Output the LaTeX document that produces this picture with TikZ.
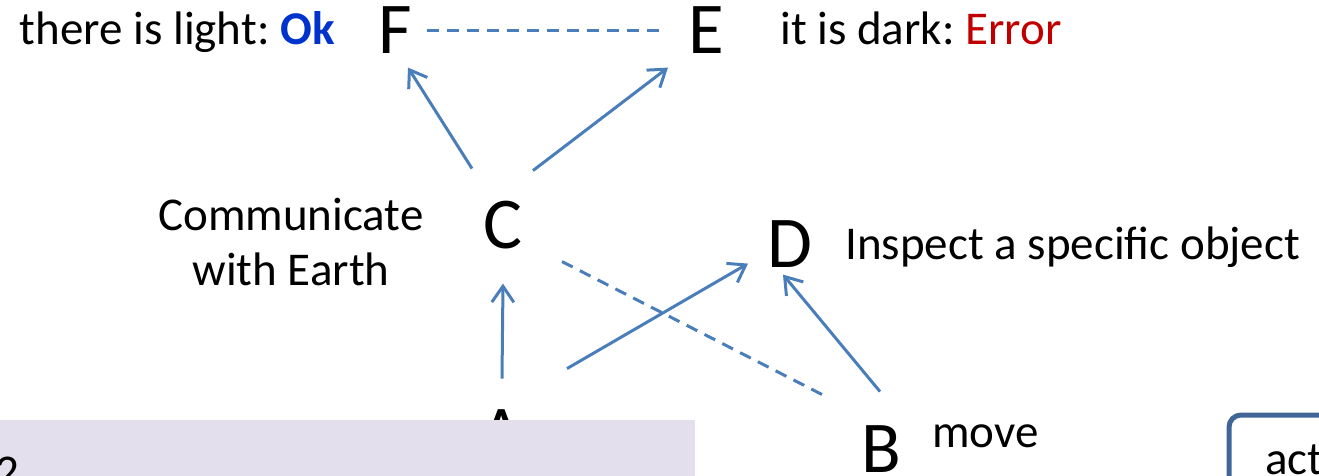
\documentclass[tikz,border=0pt]{standalone}
\usepackage{fontspec}
\setmainfont{Carlito}
\usetikzlibrary{arrows.meta}
\frenchspacing

\definecolor{linkblue}{RGB}{74,126,187}
\definecolor{okblue}{RGB}{0,51,204}
\definecolor{errred}{RGB}{192,0,0}
\definecolor{panel}{RGB}{228,223,236}
\definecolor{boxblue}{RGB}{65,101,150}

\begin{document}
\begin{tikzpicture}[x=0.5pt,y=-0.5pt]
		\useasboundingbox (0,0) rectangle (1319,476);
		\clip (0,0) rectangle (1319,476);

		% the states
		\begin{scope}[every node/.style={font=\fontsize{36.5}{40}\selectfont,inner sep=0pt,anchor=base}]
			\node (F) at (395,54) {F};
			\node (E) at (706,54) {E};
			\node (C) at (503,249) {C};
			\node (D) at (790,268) {D};
			\node (A) at (502,456) {A};
			\node (B) at (881,472) {B};
		\end{scope}

		% what each state means
		\begin{scope}[every node/.style={font=\fontsize{23.5}{27.5}\selectfont,inner sep=0pt}]
			\node[anchor=base east] (light) at (335,45) {there is light: \textcolor{okblue}{\textbf{Ok}}};
			\node[anchor=base west] (dark) at (780,45) {it is dark: \textcolor{errred}{Error}};
			\node[align=center] (comm) at (291,242) {Communicate\\with Earth};
			\node[anchor=base west] (inspect) at (845,259) {Inspect a specific object};
			\node[anchor=base west] (move) at (932,447) {move};
		\end{scope}

		\begin{scope}[>={Straight Barb[length=8pt,width=11pt]},
		              every edge/.style={draw=linkblue,line width=1.5pt}]
			\path ([shift={(32,0)}]F.center) edge[dash pattern=on 6pt off 4pt] ([shift={(-41,0)}]E.center);
			\path ([shift={(-31,-57)}]C.center) edge[->] ([shift={(13,37)}]F.center);
			\path ([shift={(30,-55)}]C.center) edge[->] ([shift={(-38,37)}]E.center);
			\path ([shift={(0,-54)}]A.center) edge[->] ([shift={(0,58)}]C.center);
			\path ([shift={(65,-64)}]A.center) edge[->] ([shift={(-42,19)}]D.center);
			\path ([shift={(-1,-57)}]B.center) edge[->] ([shift={(-7,30)}]D.center);
			\path ([shift={(59,36)}]C.center) edge[dash pattern=on 6pt off 4pt] ([shift={(-53,-51)}]B.center);
		\end{scope}

		% panel along the bottom edge
		\fill[panel] (0,420) rectangle (695,490);
		\node[font=\fontsize{23.5}{27.5}\selectfont,inner sep=0pt,anchor=base west] (num) at (-5,487) {2};

		% action box
		\draw[boxblue,line width=2.5pt,rounded corners=6pt] (1229,415) rectangle (1380,540);
		\node[font=\fontsize{23.5}{27.5}\selectfont,inner sep=0pt,anchor=base west] (act) at (1265,474) {act};
\end{tikzpicture}
\end{document}
